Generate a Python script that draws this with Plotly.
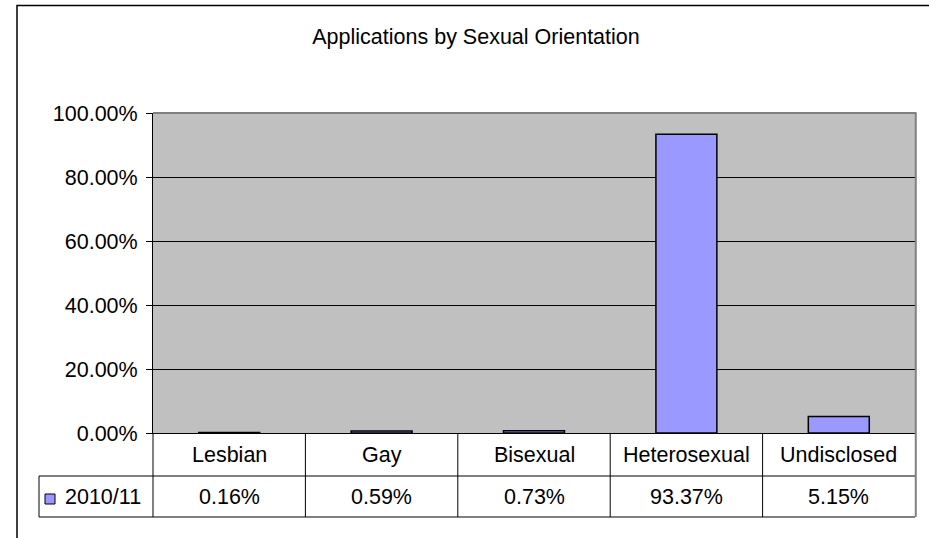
import plotly.graph_objects as go

# ---- data -------------------------------------------------------------
categories = ["Lesbian", "Gay", "Bisexual", "Heterosexual", "Undisclosed"]
series_name = "2010/11"
shares = [0.0016, 0.0059, 0.0073, 0.9337, 0.0515]
y_ticks = [0.0, 0.2, 0.4, 0.6, 0.8, 1.0]
title_text = "Applications by Sexual Orientation"

# ---- layout constants (pixels) -----------------------------------------
W, H = 929, 538
L, R, T, B = 153, 14, 113, 105
PLOT_W = W - L - R
PLOT_H = H - T - B

FONT = "Liberation Sans, Arial, sans-serif"
FS = 21.5
BAR_FILL = "#9999FF"
PLOT_BG = "#C0C0C0"
FRAME_GREY = "#808080"


def px_x(px):
    """Pixel column -> paper x."""
    return (px - L) / PLOT_W


def px_y(py):
    """Pixel row -> paper y."""
    return (H - B - py) / PLOT_H


HEADER_BOTTOM = px_y(476)
VALUE_BOTTOM = px_y(517)
LEGEND_LEFT = px_x(39)

fig = go.Figure(
    go.Bar(
        x=categories,
        y=shares,
        name=series_name,
        marker=dict(color=BAR_FILL, line=dict(color="black", width=1.5)),
        showlegend=False,
    )
)

shapes = []
line_k = dict(color="black", width=1)

# horizontal rules of the data table
for yy in (HEADER_BOTTOM, VALUE_BOTTOM):
    shapes.append(dict(type="line", xref="paper", yref="paper",
                       x0=LEGEND_LEFT, x1=1, y0=yy, y1=yy, line=line_k))
# left edge of the legend cell
shapes.append(dict(type="line", xref="paper", yref="paper",
                   x0=LEGEND_LEFT, x1=LEGEND_LEFT, y0=HEADER_BOTTOM, y1=VALUE_BOTTOM,
                   line=line_k))
# left edge of the category columns
shapes.append(dict(type="line", xref="paper", yref="paper",
                   x0=0, x1=0, y0=0, y1=VALUE_BOTTOM, line=line_k))
# separators between category columns
for i in range(len(categories) - 1):
    shapes.append(dict(type="line", xref="x", yref="paper",
                       x0=i + 0.5, x1=i + 0.5, y0=0, y1=VALUE_BOTTOM, line=line_k))
# grey frame: top and right of plot area, right edge of the table
shapes.append(dict(type="line", xref="paper", yref="paper",
                   x0=0, x1=1.002, y0=1, y1=1,
                   line=dict(color=FRAME_GREY, width=2), layer="above"))
shapes.append(dict(type="line", xref="paper", yref="paper",
                   x0=1.001, x1=1.001, y0=VALUE_BOTTOM, y1=1,
                   line=dict(color=FRAME_GREY, width=2), layer="above"))
# legend key swatch
shapes.append(dict(type="rect", xref="paper", yref="paper",
                   x0=px_x(45), x1=px_x(55), y0=px_y(504), y1=px_y(494),
                   fillcolor=BAR_FILL, line=dict(color="black", width=1)))
# outer chart border
shapes.append(dict(type="rect", xref="paper", yref="paper",
                   x0=px_x(17), x1=px_x(W + 10), y0=px_y(H + 10), y1=px_y(5.5),
                   line=dict(color="black", width=1.5), fillcolor="rgba(0,0,0,0)"))

annotations = []
header_mid = HEADER_BOTTOM / 2
value_mid = (HEADER_BOTTOM + VALUE_BOTTOM) / 2
for cat, val in zip(categories, shares):
    annotations.append(dict(x=cat, xref="x", y=header_mid, yref="paper",
                            text=cat, showarrow=False,
                            xanchor="center", yanchor="middle"))
    annotations.append(dict(x=cat, xref="x", y=value_mid, yref="paper",
                            text=f"{val * 100:.2f}%", showarrow=False,
                            xanchor="center", yanchor="middle"))
annotations.append(dict(x=px_x(63), xref="paper", y=value_mid, yref="paper",
                        text=series_name, showarrow=False,
                        xanchor="left", yanchor="middle"))

fig.update_layout(
    width=W,
    height=H,
    margin=dict(l=L, r=R, t=T, b=B, pad=0),
    paper_bgcolor="white",
    plot_bgcolor=PLOT_BG,
    font=dict(family=FONT, size=FS, color="black"),
    bargap=0.6,
    title=dict(text=title_text, x=476 / W, xanchor="center",
               y=1 - 36 / H, yanchor="middle",
               font=dict(family=FONT, size=FS, color="black")),
    shapes=shapes,
    annotations=annotations,
    xaxis=dict(range=[-0.5, len(categories) - 0.5], showticklabels=False,
               ticks="", showgrid=False, zeroline=False,
               showline=True, linecolor="black", linewidth=1),
    yaxis=dict(range=[0, 1], tickvals=y_ticks, tickformat=".2%",
               showgrid=True, gridcolor="black", gridwidth=1,
               zeroline=False, showline=True, linecolor="black", linewidth=1,
               ticks="outside", ticklen=6, tickcolor="black", tickwidth=1,
               ticklabelstandoff=4),
)

fig.write_html("out.html")
